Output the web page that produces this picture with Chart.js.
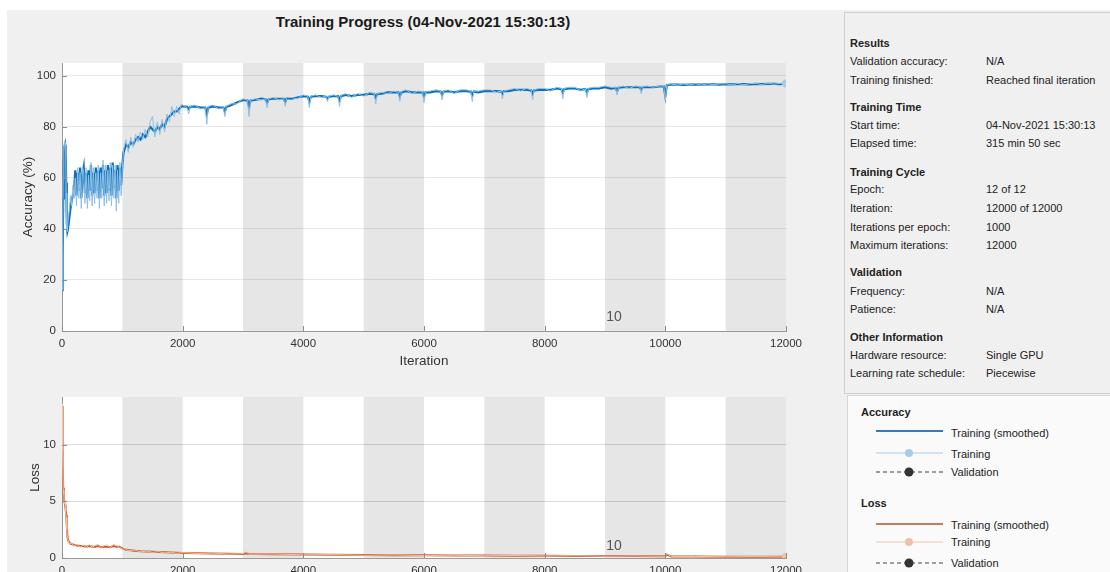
<!DOCTYPE html>
<html>
<head>
<meta charset="utf-8">
<script src="https://cdn.jsdelivr.net/npm/chart.js@4.4.0/dist/chart.umd.min.js"></script>
<style>
html, body { margin: 0; padding: 0; width: 1110px; height: 572px; overflow: hidden; background: #fff;
  font-family: "Liberation Sans", Arial, sans-serif; }
#bg { position: absolute; left: 7px; top: 10px; width: 1103px; height: 562px; background: #f0f0f0; }
#title { position: absolute; left: 0; top: 13px; width: 846px; text-align: center; font-weight: bold;
  font-size: 15px; color: #1a1a1a; }
#accWrap { position: absolute; left: 0; top: 0; width: 840px; height: 380px; }
#lossWrap { position: absolute; left: 0; top: 380px; width: 840px; height: 220px; }
#info { position: absolute; left: 844px; top: 12px; width: 280px; height: 380px; border: 1px solid #cfcfcf; background: #f0f0f0; }
#legend { position: absolute; left: 847px; top: 395px; width: 280px; height: 200px; border: 1px solid #d6d6d6; background: #fafafa; }
.t { position: absolute; font-size: 11px; color: #222; white-space: nowrap; transform: translateY(-50%); }
.b { font-weight: bold; }
.g { position: absolute; left: 874px; }
</style>
</head>
<body>
<div id="bg"></div>
<div id="info"></div>
<div id="legend"></div>
<div id="title">Training Progress (04-Nov-2021 15:30:13)</div>
<div id="accWrap"><canvas id="accChart" width="840" height="380"></canvas></div>
<div id="lossWrap"><canvas id="lossChart" width="840" height="220"></canvas></div>

<div class="t b" style="left:850px;top:43px">Results</div>
<div class="t" style="left:850px;top:61px">Validation accuracy:</div><div class="t" style="left:986px;top:61px">N/A</div>
<div class="t" style="left:850px;top:80px">Training finished:</div><div class="t" style="left:986px;top:80px">Reached final iteration</div>
<div class="t b" style="left:850px;top:107px">Training Time</div>
<div class="t" style="left:850px;top:125px">Start time:</div><div class="t" style="left:986px;top:125px">04-Nov-2021 15:30:13</div>
<div class="t" style="left:850px;top:143px">Elapsed time:</div><div class="t" style="left:986px;top:143px">315 min 50 sec</div>
<div class="t b" style="left:850px;top:172px">Training Cycle</div>
<div class="t" style="left:850px;top:189px">Epoch:</div><div class="t" style="left:986px;top:189px">12 of 12</div>
<div class="t" style="left:850px;top:208px">Iteration:</div><div class="t" style="left:986px;top:208px">12000 of 12000</div>
<div class="t" style="left:850px;top:227px">Iterations per epoch:</div><div class="t" style="left:986px;top:227px">1000</div>
<div class="t" style="left:850px;top:245px">Maximum iterations:</div><div class="t" style="left:986px;top:245px">12000</div>
<div class="t b" style="left:850px;top:272px">Validation</div>
<div class="t" style="left:850px;top:291px">Frequency:</div><div class="t" style="left:986px;top:291px">N/A</div>
<div class="t" style="left:850px;top:309px">Patience:</div><div class="t" style="left:986px;top:309px">N/A</div>
<div class="t b" style="left:850px;top:337px">Other Information</div>
<div class="t" style="left:850px;top:355px">Hardware resource:</div><div class="t" style="left:986px;top:355px">Single GPU</div>
<div class="t" style="left:850px;top:373px">Learning rate schedule:</div><div class="t" style="left:986px;top:373px">Piecewise</div>

<div class="t b" style="left:861px;top:412px">Accuracy</div>
<svg class="g" style="top:426px" width="72" height="10"><line x1="2" y1="5" x2="69" y2="5" stroke="#2f7db9" stroke-width="2"/></svg>
<div class="t" style="left:951px;top:433px">Training (smoothed)</div>
<svg class="g" style="top:448px" width="72" height="10"><line x1="2" y1="5" x2="69" y2="5" stroke="#a8cce7" stroke-width="1.2"/><circle cx="35" cy="5" r="4" fill="#a8cce7"/></svg>
<div class="t" style="left:951px;top:454px">Training</div>
<svg class="g" style="top:467px" width="72" height="10"><line x1="2" y1="5" x2="69" y2="5" stroke="#444" stroke-width="1" stroke-dasharray="4,3"/><circle cx="35" cy="5" r="4.5" fill="#333"/></svg>
<div class="t" style="left:951px;top:472px">Validation</div>
<div class="t b" style="left:861px;top:503px">Loss</div>
<svg class="g" style="top:519px" width="72" height="10"><line x1="2" y1="5" x2="69" y2="5" stroke="#c47d5a" stroke-width="2"/></svg>
<div class="t" style="left:951px;top:525px">Training (smoothed)</div>
<svg class="g" style="top:537px" width="72" height="10"><line x1="2" y1="5" x2="69" y2="5" stroke="#f2c6b0" stroke-width="1.2"/><circle cx="35" cy="5" r="4" fill="#f2c0a8"/></svg>
<div class="t" style="left:951px;top:542px">Training</div>
<svg class="g" style="top:558px" width="72" height="10"><line x1="2" y1="5" x2="69" y2="5" stroke="#444" stroke-width="1" stroke-dasharray="4,3"/><circle cx="35" cy="5" r="4.5" fill="#333"/></svg>
<div class="t" style="left:951px;top:563px">Validation</div>

<script>
// epoch boundaries (1000 iterations per epoch)
const epochEdges = [0, 1000, 2000, 3000, 4000, 5000, 6000, 7000, 8000, 9000, 10000, 11000, 12000];
const iterTicks = [0, 2000, 4000, 6000, 8000, 10000, 12000];
const epochLabel = "10";
const epochLabelIter = 9150;

// accuracy
const accIter = [0, 10, 20, 30, 40, 50, 60, 70, 80, 90, 100, 120, 140, 160, 180, 200,
  220, 240, 260, 280, 300, 320, 340, 360, 380, 400, 420, 440, 460, 480, 500, 520, 540, 560, 580, 600,
  620, 640, 660, 680, 700, 720, 740, 760, 780, 800, 820, 840, 860, 880, 900, 920, 940, 960, 980, 1000,
  1020, 1060, 1100, 1140, 1180, 1220, 1260, 1300, 1340, 1380, 1420, 1460, 1500, 1540, 1580, 1620, 1660,
  1700, 1740, 1780, 1820, 1860, 1900, 1940, 1980,
  2000, 2075, 2100, 2125, 2200, 2300, 2375, 2400, 2425, 2500,
  2600, 2675, 2700, 2725, 2800, 2900, 3000, 3075, 3100, 3125,
  3200, 3300, 3375, 3400, 3425, 3500, 3600, 3675, 3700, 3725,
  3800, 3900, 4000, 4075, 4100, 4125, 4200, 4300, 4375, 4400,
  4425, 4500, 4575, 4600, 4625, 4700, 4800, 4900, 5000, 5100,
  5175, 5200, 5225, 5300, 5400, 5500, 5575, 5600, 5625, 5700,
  5800, 5900, 5975, 6000, 6025, 6100, 6200, 6275, 6300, 6325,
  6400, 6500, 6600, 6700, 6775, 6800, 6825, 6900, 7000, 7100,
  7200, 7275, 7300, 7325, 7400, 7500, 7600, 7700, 7775, 7800,
  7825, 7900, 8000, 8100, 8200, 8275, 8300, 8325, 8400, 8500,
  8600, 8675, 8700, 8725, 8800, 8900, 9000, 9100, 9175, 9200,
  9225, 9300, 9400, 9500, 9575, 9600, 9625, 9700, 9800, 9900,
  9975, 10000, 10025, 10100, 10200, 10300, 10400, 10500, 10600, 10700,
  10800, 10900, 11000, 11100, 11200, 11300, 11400, 11500, 11600, 11700,
  11800, 11900, 12000];

const accSmooth = [16, 30, 52, 66, 72, 73, 70, 58, 42, 39, 40, 44, 48, 51, 53, 55,
  63, 53, 62, 55, 64, 52, 61, 64, 54, 62, 52, 63, 55, 65, 53, 62, 54, 64, 55, 63,
  52, 64, 56, 65, 53, 63, 54, 65, 55, 64, 53, 66, 56, 63, 52, 65, 55, 64, 57, 65,
  70, 73, 72, 74, 73, 75, 76, 75, 77, 76, 78, 80, 79, 78, 80, 79, 81,
  80, 83, 84, 85, 86, 86, 87, 88,
  88, 87.8, 87, 87.8, 88, 87.5, 87.5, 85, 87.5, 88,
  87.5, 87.5, 86, 87.8, 88.5, 89.5, 90.5, 90.3, 88, 90.3,
  90.5, 91, 90.8, 89.5, 90.8, 91, 91, 91, 89.8, 91.2,
  91, 91.5, 92, 91.8, 90, 91.8, 92, 92, 91.8, 91,
  91.8, 92, 92, 90.5, 92, 92.5, 92, 92.5, 92.5, 93,
  92.8, 91.5, 92.8, 93, 93.5, 93.5, 93.5, 92, 93.5, 94,
  93.5, 93.5, 93.6, 92, 93.6, 93.5, 94, 93.8, 92.5, 93.8,
  94, 93.5, 94, 94, 93.8, 92.5, 93.8, 93.5, 94, 94,
  94, 93.8, 93, 94, 94, 94.5, 94.5, 94.5, 94.3, 93,
  94.3, 94.5, 94.5, 94.5, 95, 94.8, 93.5, 94.8, 95, 95,
  94.5, 94.8, 93.5, 94.8, 95, 95, 95.5, 95, 95.2, 94,
  95.3, 95.5, 95.5, 95.5, 95.5, 94.5, 95.5, 95.5, 95.5, 95.8,
  95.8, 92, 96.4, 96.5, 96.5, 96.4, 96.5, 96.6, 96.5, 96.6,
  96.6, 96.5, 96.7, 96.6, 96.7, 96.7, 96.6, 96.8, 96.7, 96.8,
  96.8, 96.7, 96.9];

const accRaw = [16, 36, 60, 70, 74, 74, 72, 54, 40, 39, 43, 47, 53, 49, 57, 52,
  60, 49, 64, 52, 62, 48, 64, 62, 50, 64, 48, 61, 51, 66, 49, 64, 50, 62, 52, 65,
  48, 62, 52, 67, 49, 65, 50, 63, 51, 66, 49, 65, 52, 65, 47, 63, 50, 66, 53, 64,
  71, 75, 70, 76, 72, 77, 74, 78, 75, 79, 76, 82, 84, 76, 82, 77, 83,
  78, 85, 82, 88, 84, 88, 85, 89,
  88.5, 87.5, 85, 88, 88.5, 87, 87.5, 81, 88, 88.5,
  87, 87.5, 84, 88, 89, 89, 91, 90.5, 84, 90.5,
  91, 90.5, 91, 87.5, 91, 91.5, 90.5, 91, 88, 91.5,
  91.5, 91, 92.5, 92, 87.5, 92, 92.5, 91.5, 92, 90,
  92, 92.5, 92, 88, 92.3, 93, 91.5, 93, 92, 93.5,
  93, 89, 93, 93.5, 93, 94, 93.5, 90, 93.8, 94.5,
  93, 94, 93.8, 89.4, 93.8, 94, 94.5, 94, 90.5, 94,
  94.5, 93, 94.5, 94.5, 94, 89.8, 94, 94, 94.5, 94.5,
  93.5, 94, 91, 94, 94.5, 95, 94, 95, 94.5, 90.6,
  94.5, 95, 95, 94, 95.5, 95, 91, 95, 95.5, 95.5,
  94, 95, 91.5, 95, 95.5, 95.5, 96, 95.5, 95.5, 92.5,
  95.5, 96, 95, 96, 95.8, 93, 95.8, 96, 95.5, 96,
  96, 90.3, 96.6, 96.8, 96.3, 96.8, 96.4, 96.9, 96.3, 96.9,
  96.5, 96.8, 96.9, 96.4, 97, 96.5, 96.9, 97, 96.5, 97.1,
  96.7, 97, 97];

// loss
const lossIter = [0, 10, 20, 30, 40, 50, 60, 70, 80, 90, 100, 125, 150, 200, 250, 300, 350, 400, 450, 500,
  550, 600, 650, 700, 750, 800, 850, 900, 950, 1000, 1050, 1100, 1200, 1300, 1400, 1500, 1600, 1700, 1800, 1900,
  2000, 2250, 2500, 2750, 3000, 3050, 3100, 3500, 4000, 4500, 5000, 5500, 6000, 6500, 7000, 7500, 8000, 8500,
  9000, 9500, 10000, 10020, 10100, 10500, 11000, 11500, 12000];
const lossSmooth = [13.4, 8.5, 6.2, 5.4, 5.0, 4.7, 4.3, 3.8, 2.8, 1.9, 1.55, 1.35, 1.25, 1.15, 1.1, 1.05, 1.05, 1.0, 1.05, 1.0,
  1.0, 1.05, 0.95, 1.0, 1.0, 0.95, 1.05, 1.0, 1.0, 0.85, 0.75, 0.7, 0.65, 0.6, 0.57, 0.55, 0.52, 0.5, 0.48, 0.46,
  0.45, 0.42, 0.4, 0.38, 0.36, 0.42, 0.35, 0.33, 0.3, 0.28, 0.26, 0.25, 0.24, 0.22, 0.21, 0.2, 0.19, 0.18,
  0.17, 0.17, 0.16, 0.3, 0.13, 0.13, 0.12, 0.12, 0.11];
const lossRaw = [13.6, 9.5, 6.0, 5.6, 4.8, 4.9, 4.0, 3.6, 2.5, 1.7, 1.6, 1.2, 1.35, 1.05, 1.2, 0.95, 1.15, 0.9, 1.2, 0.95,
  1.1, 1.2, 0.9, 1.1, 1.15, 0.9, 1.2, 1.1, 0.95, 0.8, 0.8, 0.65, 0.7, 0.55, 0.6, 0.5, 0.56, 0.45, 0.5, 0.42,
  0.47, 0.4, 0.43, 0.35, 0.38, 0.55, 0.33, 0.35, 0.28, 0.3, 0.24, 0.27, 0.22, 0.24, 0.2, 0.22, 0.18, 0.2,
  0.16, 0.18, 0.15, 0.4, 0.12, 0.14, 0.11, 0.13, 0.1];

function pts(xs, ys) {
  return xs.map((v, i) => ({ x: v, y: ys[i] }));
}

// white plot area with grey bands on every other epoch, inward ticks, epoch label
const epochShading = {
  id: "epochShading",
  beforeDraw(chart) {
    const { ctx, chartArea: a, scales: { x } } = chart;
    ctx.save();
    ctx.fillStyle = "#fff";
    ctx.fillRect(a.left, a.top, a.width, a.height);
    ctx.fillStyle = "#e6e6e6";
    for (let e = 1; e < epochEdges.length - 1; e += 2) {
      const x0 = x.getPixelForValue(epochEdges[e]);
      const x1 = x.getPixelForValue(epochEdges[e + 1]);
      ctx.fillRect(x0, a.top, x1 - x0, a.height);
    }
    ctx.restore();
  },
  afterDraw(chart, args, opts) {
    const { ctx, chartArea: a, scales: { x, y } } = chart;
    ctx.save();
    ctx.strokeStyle = "#8c8c8c";
    ctx.lineWidth = 1;
    ctx.beginPath();
    x.ticks.forEach(t => {
      const px = Math.round(x.getPixelForValue(t.value)) + 0.5;
      ctx.moveTo(px, a.bottom);
      ctx.lineTo(px, a.bottom - 5);
    });
    y.ticks.forEach(t => {
      const py = Math.round(y.getPixelForValue(t.value)) + 0.5;
      ctx.moveTo(a.left, py);
      ctx.lineTo(a.left + 5, py);
    });
    ctx.stroke();
    ctx.fillStyle = "#555";
    ctx.font = '14px "Liberation Sans", Arial, sans-serif';
    ctx.textAlign = "center";
    ctx.textBaseline = "middle";
    ctx.fillText(epochLabel, x.getPixelForValue(epochLabelIter), a.bottom - opts.labelOffset);
    ctx.restore();
  }
};

function xAxis(height) {
  return {
    type: "linear", min: 0, max: 12000,
    afterBuildTicks: s => { s.ticks = iterTicks.map(v => ({ value: v })); },
    ticks: { color: "#333", font: { size: 11.5 }, padding: 6, maxRotation: 0, callback: v => String(v) },
    grid: { drawOnChartArea: false, drawTicks: false },
    border: { color: "#999" },
    title: { display: true, text: "Iteration", color: "#333", font: { size: 13.5 }, padding: { bottom: 11 } },
    afterFit: s => { s.height = height; }
  };
}

function yAxis(max, step, label, titlePad, gridColor) {
  return {
    min: 0, max: max,
    ticks: { stepSize: step, includeBounds: false, color: "#333", font: { size: 11.5 }, padding: 6, callback: v => String(v) },
    grid: { color: gridColor, drawTicks: false },
    border: { color: "#999" },
    title: { display: true, text: label, color: "#333", font: { size: 13.5 }, padding: { top: titlePad } },
    afterFit: s => { s.width = 62; }
  };
}

Chart.defaults.font.family = '"Liberation Sans", Arial, sans-serif';

new Chart(document.getElementById("accChart"), {
  type: "line",
  data: {
    datasets: [{
      label: "Training",
      data: pts(accIter, accRaw),
      borderColor: "#8fc0e6",
      borderWidth: 1,
      pointRadius: ctx => ctx.dataIndex === accIter.length - 1 ? 4 : 0,
      pointBackgroundColor: "#a8cce7",
      pointBorderWidth: 0
    }, {
      label: "Training (smoothed)",
      data: pts(accIter, accSmooth),
      borderColor: "#0a70bb",
      borderWidth: 2.2,
      pointRadius: 0
    }]
  },
  options: {
    responsive: false,
    animation: false,
    layout: { padding: { top: 63, right: 54, left: 0, bottom: 0 } },
    plugins: { legend: { display: false }, tooltip: { enabled: false }, epochShading: { labelOffset: 14 } },
    scales: { x: xAxis(49), y: yAxis(105, 20, "Accuracy (%)", 20, "rgba(0,0,0,0.09)") }
  },
  plugins: [epochShading]
});

new Chart(document.getElementById("lossChart"), {
  type: "line",
  data: {
    datasets: [{
      label: "Training",
      data: pts(lossIter, lossRaw),
      borderColor: "#f3c0a8",
      borderWidth: 1,
      pointRadius: ctx => ctx.dataIndex === lossIter.length - 1 ? 4 : 0,
      pointBackgroundColor: "#f2c0a8",
      pointBorderWidth: 0
    }, {
      label: "Training (smoothed)",
      data: pts(lossIter, lossSmooth),
      borderColor: "#c8582a",
      borderWidth: 2,
      pointRadius: 0
    }]
  },
  options: {
    responsive: false,
    animation: false,
    layout: { padding: { top: 17, right: 54, left: 0, bottom: 0 } },
    plugins: { legend: { display: false }, tooltip: { enabled: false }, epochShading: { labelOffset: 12 } },
    scales: { x: xAxis(42), y: yAxis(14.2, 5, "Loss", 27, "rgba(0,0,0,0.14)") }
  },
  plugins: [epochShading]
});
</script>
</body>
</html>
